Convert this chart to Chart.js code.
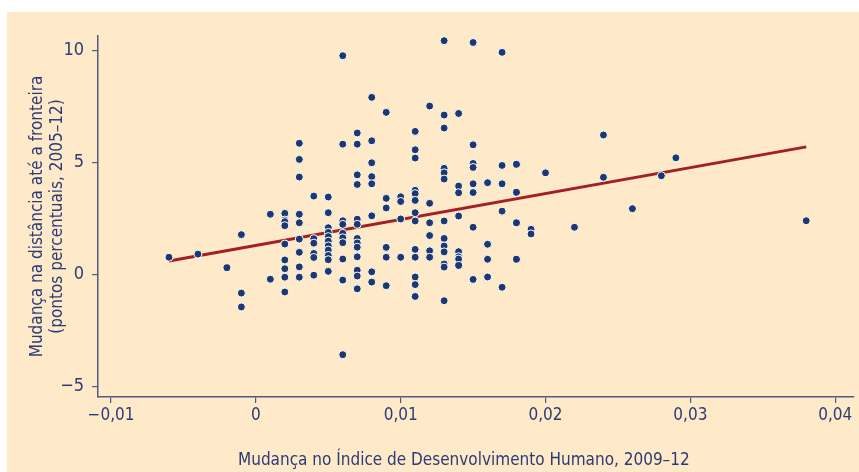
<!DOCTYPE html>
<html lang="pt">
<head>
<meta charset="utf-8">
<title>Mudança no IDH e na distância até a fronteira</title>
<script src="https://cdn.jsdelivr.net/npm/chart.js@4.4.1/dist/chart.umd.min.js"></script>
<style>
  html, body { margin: 0; padding: 0; background: #fff; }
  body { width: 859px; height: 472px; overflow: hidden; position: relative; }
  .panel { position: absolute; left: 7px; top: 12px; width: 852px; height: 460px; background: #feeac8; }
</style>
</head>
<body>
<div class="panel"><canvas id="chart"></canvas></div>
<script>
// IDH change, 2009-12 (one column per rounded value)
const hdiColumns = [-0.006, -0.004, -0.002, -0.001, 0.001, 0.002, 0.003, 0.004, 0.005, 0.006,
  0.007, 0.008, 0.009, 0.010, 0.011, 0.012, 0.013, 0.014, 0.015, 0.016,
  0.017, 0.018, 0.019, 0.020, 0.022, 0.024, 0.026, 0.028, 0.029, 0.038];

// change in distance to frontier, 2005-12, for the countries in each column
const frontierColumns = [
  [0.78],
  [0.92],
  [0.31],
  [1.79, -0.82, -1.44],
  [2.70, -0.20],
  [2.74, 2.44, 2.37, 2.19, 1.37, 0.66, 0.27, -0.11, -0.77],
  [5.87, 5.15, 4.36, 2.70, 2.32, 1.59, 1.00, 0.35, -0.11],
  [3.51, 1.61, 1.41, 0.95, 0.77, -0.02],
  [3.47, 2.77, 2.10, 1.89, 1.70, 1.50, 1.29, 1.10, 0.86, 0.67, 0.15],
  [9.78, 5.83, 2.41, 2.25, 1.85, 1.65, 1.43, 0.70, -0.24, -3.57],
  [6.33, 5.83, 4.46, 4.03, 2.48, 2.25, 1.62, 1.42, 1.23, 0.80, 0.20, -0.06, -0.63],
  [7.92, 5.98, 5.00, 4.38, 4.06, 2.63, 0.13, -0.33],
  [7.25, 3.41, 2.98, 1.22, 0.78, -0.49],
  [3.48, 3.27, 2.49, 0.78],
  [6.40, 5.58, 5.21, 3.77, 3.62, 3.32, 2.77, 2.40, 1.13, 0.78, -0.10, -0.44, -0.97],
  [7.53, 3.19, 2.32, 1.75, 1.07, 0.78],
  [10.45, 7.13, 6.55, 4.75, 4.55, 4.27, 2.40, 1.62, 1.28, 1.02, 0.48, 0.34, -1.16],
  [7.20, 3.96, 3.66, 2.62, 1.03, 0.80, 0.70, 0.41],
  [10.37, 5.80, 4.97, 4.79, 4.06, 3.67, 2.12, -0.21],
  [4.11, 1.36, 0.69, -0.10],
  [9.93, 4.88, 4.06, 2.84, -0.56],
  [4.93, 3.68, 2.32, 0.69],
  [2.03, 1.82],
  [4.55],
  [2.12],
  [6.24, 4.35],
  [2.95],
  [4.42],
  [5.22],
  [2.41]
];

// fitted line, read at its two ends
const trendX = [-0.006, 0.038];
const trendY = [0.61, 5.71];

const xTicks = [-0.01, 0, 0.01, 0.02, 0.03, 0.04];
const yTicks = [-5, 0, 5, 10];

// trailing spaces nudge the centred title a little to the left, as in the original
const xTitle = 'Mudança no Índice de Desenvolvimento Humano, 2009–12     ';
const yTitle = ['Mudança na distância até a fronteira', '(pontos percentuais, 2005–12)'];

const textColor = '#2b3b77';
const axisColor = '#4f5a80';
const fontFamily = "'Liberation Sans Narrow', 'DejaVu Sans Condensed', 'Liberation Sans', sans-serif";

const points = [];
hdiColumns.forEach((x, i) => {
  frontierColumns[i].forEach(y => points.push({ x, y }));
});
const trend = trendX.map((x, i) => ({ x, y: trendY[i] }));

const fmt = v => (v < 0 ? '\u2212' : '') + String(Math.abs(v)).replace('.', ',');

new Chart(document.getElementById('chart'), {
  type: 'scatter',
  data: {
    datasets: [
      {
        data: points,
        backgroundColor: '#1d386f',
        borderColor: '#ffffff',
        borderWidth: 1,
        pointRadius: 4,
        order: 0
      },
      {
        type: 'line',
        data: trend,
        borderColor: '#a21f24',
        borderWidth: 3,
        pointRadius: 0,
        fill: false,
        order: 1
      }
    ]
  },
  options: {
    responsive: true,
    maintainAspectRatio: false,
    animation: false,
    layout: { padding: { top: 24, right: 4, left: 0, bottom: 0 } },
    plugins: { legend: { display: false }, tooltip: { enabled: false } },
    scales: {
      x: {
        type: 'linear',
        min: -0.0109,
        max: 0.0413,
        afterBuildTicks: s => { s.ticks = xTicks.map(value => ({ value })); },
        afterFit: s => { s.height = 75; },
        border: { display: true, color: axisColor, width: 1.5 },
        grid: { drawOnChartArea: false, drawTicks: true, tickLength: 6, color: axisColor, lineWidth: 1.2 },
        ticks: { color: textColor, font: { family: fontFamily, size: 17 }, padding: 2, maxRotation: 0, autoSkip: false, callback: fmt },
        title: { display: true, text: xTitle, color: textColor, font: { family: fontFamily, size: 17, lineHeight: 1.15 }, padding: { top: 0, bottom: 2 } }
      },
      y: {
        type: 'linear',
        min: -5.46,
        max: 10.66,
        afterBuildTicks: s => { s.ticks = yTicks.map(value => ({ value })); },
        afterFit: s => { s.width = 91; },
        border: { display: true, color: axisColor, width: 1.5 },
        grid: { drawOnChartArea: false, drawTicks: true, tickLength: 6, color: axisColor, lineWidth: 1.2 },
        ticks: { color: textColor, font: { family: fontFamily, size: 18 }, padding: 8, autoSkip: false, callback: fmt },
        title: { display: true, text: yTitle, color: textColor, font: { family: fontFamily, size: 17, lineHeight: 1.2 }, padding: { top: 20, bottom: 0 } }
      }
    }
  }
});
</script>
</body>
</html>
